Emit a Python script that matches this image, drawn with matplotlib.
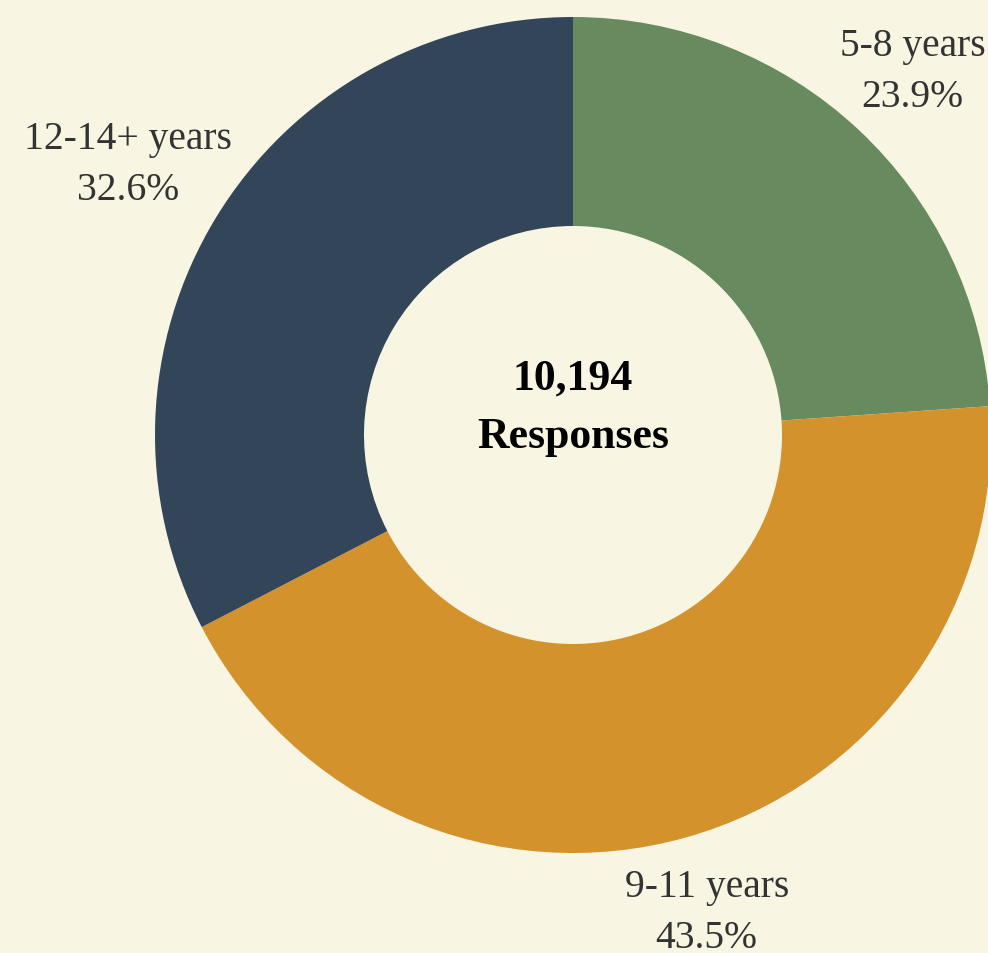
import numpy as np
import matplotlib.pyplot as plt

plt.rcParams['font.family'] = ['Liberation Serif', 'DejaVu Serif']

# 資料
labels = ['5-8 years', '9-11 years', '12-14+ years']
shares = [23.9, 43.5, 32.6]
colors = ['#678A5E', '#D4922C', '#334558']
total_responses = 10194
bg = '#F8F5E3'

# 標籤離圓心的距離（以半徑為單位）
label_dist = [1.19, 1.185, 1.245]

fig = plt.figure(figsize=(9.88, 9.54), dpi=100, facecolor=bg)
ax = fig.add_axes([0, 0, 1, 1])
ax.set_facecolor(bg)

R_PX = 418
cx, cy = 573, 436

texts = [f'{l}\n{s:.1f}%' for l, s in zip(labels, shares)]
wedges, label_texts = ax.pie(shares, labels=texts, colors=colors, startangle=90,
                             counterclock=False, radius=1.0, labeldistance=1.0,
                             frame=True,
                             wedgeprops=dict(width=0.5, linewidth=0),
                             textprops=dict(ha='center', va='center', fontsize=28.5,
                                            color='#333333', linespacing=1.5))
for t, d in zip(label_texts, label_dist):
    x, y = t.get_position()
    t.set_position((x * d, y * d))

ax.set_xlim(-cx / R_PX, (988 - cx) / R_PX)
ax.set_ylim(-(954 - cy) / R_PX, cy / R_PX)
ax.set_aspect('auto')
ax.axis('off')

ax.text(0, 0.067, f'{total_responses:,}\nResponses', ha='center', va='center',
        fontsize=31.5, fontweight='bold', color='black', linespacing=1.58)

fig.savefig('out.png', dpi=100, facecolor=bg)
